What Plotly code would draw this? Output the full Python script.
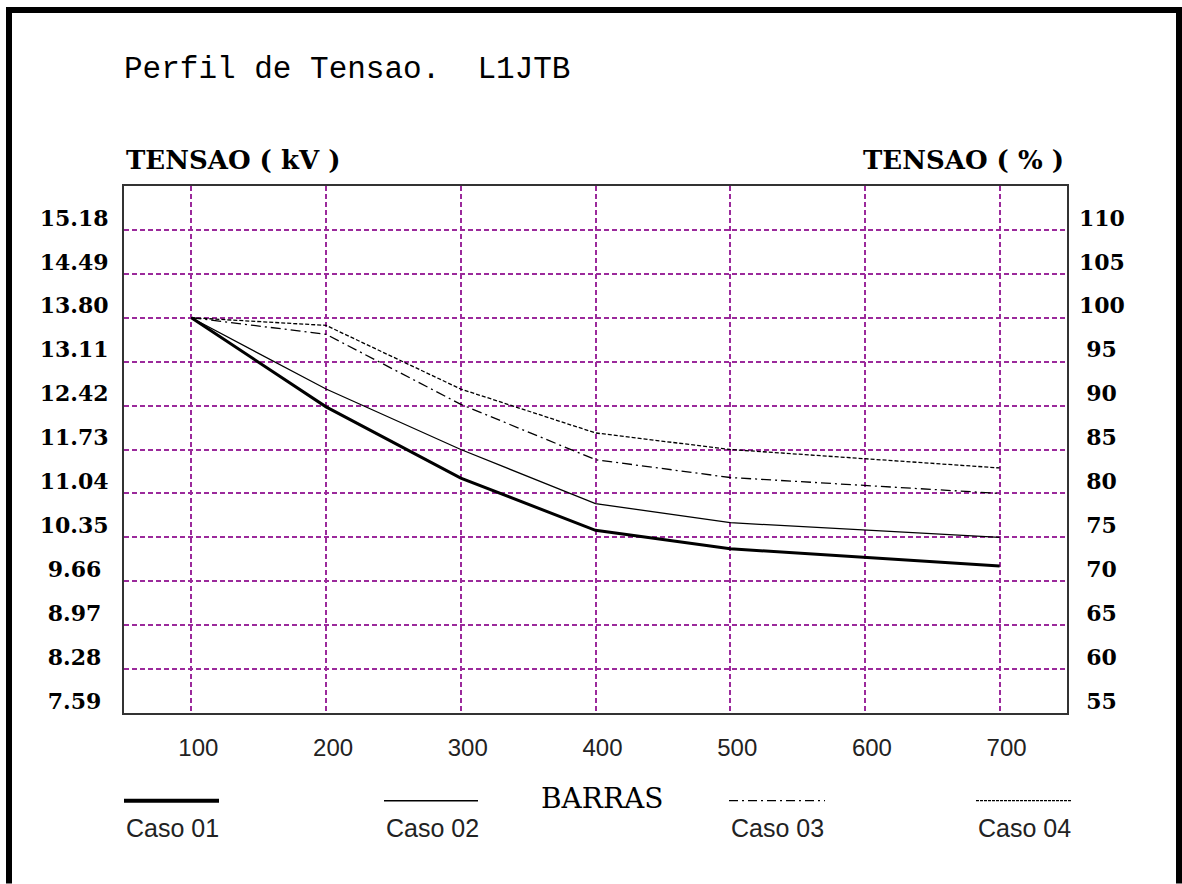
import plotly.graph_objects as go

# ---------------- data ----------------
barras = [100, 200, 300, 400, 500, 600, 700]
caso01 = [13.80, 12.40, 11.28, 10.46, 10.17, 10.04, 9.90]
caso02 = [13.80, 12.68, 11.73, 10.88, 10.58, 10.47, 10.35]
caso03 = [13.80, 13.54, 12.44, 11.57, 11.29, 11.17, 11.04]
caso04 = [13.80, 13.68, 12.68, 11.99, 11.73, 11.59, 11.44]
series_names = ["Caso 01", "Caso 02", "Caso 03", "Caso 04"]

kv_ticks = [7.59, 8.28, 8.97, 9.66, 10.35, 11.04, 11.73, 12.42, 13.11, 13.80, 14.49, 15.18]
pct_ticks = [55, 60, 65, 70, 75, 80, 85, 90, 95, 100, 105, 110]
v_base = 13.80

title_text = "Perfil de Tensao.  L1JTB"
left_title = "TENSAO ( kV )"
right_title = "TENSAO ( % )"
x_title = "BARRAS"

# ---------------- styles ----------------
W, H = 1182, 884
PL, PR, PT, PB = 124, 1067, 186, 713.3
line_widths = [3, 1.3, 1.3, 1.3]
line_dashes = ["solid", "solid", "10px,4px,2px,4px", "4px,2px"]
legend_widths = [4, 1.5, 1.3, 1.3]
legend_dashes = ["solid", "solid", "9px,4px,2px,4px", "3px,1px"]
legend_x = [(124, 219), (384, 478), (729, 825), (976, 1072)]
grid_color = "#9b2a9b"
serif = "DejaVu Serif"
mono = "Liberation Mono"
sans = "Liberation Sans"


def px2x(px):
    return (px - PL) / (PR - PL)


def py2y(py):
    return (PB - py) / (PB - PT)


fig = go.Figure()
series = [caso01, caso02, caso03, caso04]
for name, vals, w, d in zip(series_names, series, line_widths, line_dashes):
    fig.add_trace(go.Scatter(x=barras, y=vals, name=name, mode="lines",
                             line=dict(color="black", width=w, dash=d),
                             showlegend=False))

# helper (invisible) trace for the percent axis
fig.add_trace(go.Scatter(x=barras, y=[v / v_base * 100 for v in caso01], yaxis="y2",
                         mode="lines", line=dict(width=0), opacity=0,
                         hoverinfo="skip", showlegend=False))

sp = "\u2004"
kv_text = [f"{v:.2f}" + (sp if v < 10 else "") for v in kv_ticks]
pct_text = [(sp if p < 100 else "") + str(p) for p in pct_ticks]

fig.update_layout(
    width=W, height=H,
    margin=dict(l=PL, r=W - PR, t=PT, b=H - PB, pad=0),
    paper_bgcolor="white", plot_bgcolor="white",
    title=dict(text=title_text, x=124 / W, xref="container",
               xanchor="left", y=1 - 67 / H, yref="container", yanchor="middle",
               font=dict(family=mono, size=31, color="black")),
    xaxis=dict(range=[50, 750], tickvals=barras, ticks="", showgrid=True,
               gridcolor=grid_color, griddash="5px,3px", gridwidth=1.5,
               showline=True, mirror=True, linecolor="#333", linewidth=2,
               zeroline=False, tickfont=dict(family=sans, size=24, color="#222"),
               ticklabelstandoff=12, ticklabelshift=7),
    yaxis=dict(range=[7.59, 15.87], tickvals=kv_ticks, ticktext=kv_text, ticks="",
               showgrid=True, gridcolor=grid_color, griddash="5px,3px", gridwidth=1.5,
               showline=True, mirror=True, linecolor="#333", linewidth=2,
               zeroline=False, tickfont=dict(family=serif, size=22, color="black", weight="bold"),
               ticklabelstandoff=9, ticklabelshift=-12),
    yaxis2=dict(range=[55, 115], tickvals=pct_ticks, ticktext=pct_text, overlaying="y",
                side="right", showgrid=False, ticks="", showline=False, zeroline=False,
                tickfont=dict(family=serif, size=22, color="black", weight="bold"),
                ticklabelstandoff=11, ticklabelshift=-12),
)

annotations = [
    dict(text=left_title, x=px2x(124), y=py2y(160), xanchor="left", yanchor="middle",
         font=dict(family=serif, size=26, color="black", weight="bold")),
    dict(text=right_title, x=px2x(1066), y=py2y(160), xanchor="right", yanchor="middle",
         font=dict(family=serif, size=26, color="black", weight="bold")),
    dict(text=x_title, x=px2x(602), y=py2y(799), xanchor="center", yanchor="middle",
         font=dict(family=serif, size=28, color="black")),
]
shapes = []
for name, (x0, x1), w, d in zip(series_names, legend_x, legend_widths, legend_dashes):
    shapes.append(dict(type="line", xref="paper", yref="paper",
                       x0=px2x(x0), x1=px2x(x1), y0=py2y(801), y1=py2y(801),
                       line=dict(color="black", width=w, dash=d)))
    annotations.append(dict(text=name, x=px2x(x0), y=py2y(828), xanchor="left",
                            yanchor="middle",
                            font=dict(family=sans, size=25, color="#222")))
for a in annotations:
    a.update(xref="paper", yref="paper", showarrow=False)

# outer frame
frame = [((9, 10), (9, 884)), ((6, 10), (1179, 10)), ((1179, 7), (1179, 884))]
for (x0, y0), (x1, y1) in frame:
    shapes.append(dict(type="line", xref="paper", yref="paper",
                       x0=px2x(x0), y0=py2y(y0), x1=px2x(x1), y1=py2y(y1),
                       line=dict(color="black", width=6)))

fig.update_layout(annotations=annotations, shapes=shapes)

fig.write_html("out.html", config={"displayModeBar": False},
               post_script="document.body.style.margin='0';")
